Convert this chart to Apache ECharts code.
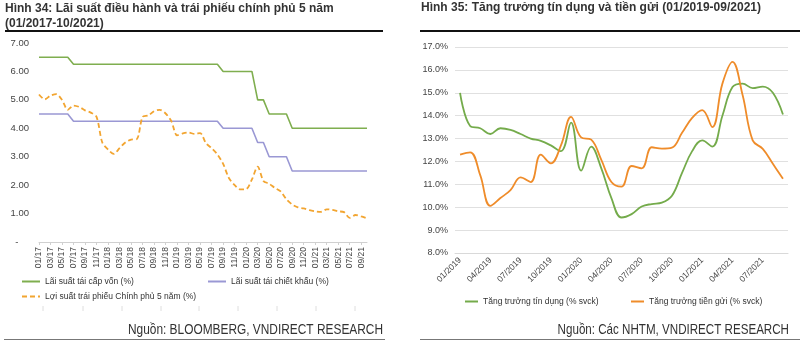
<!DOCTYPE html>
<html><head><meta charset="utf-8">
<script src="https://cdn.jsdelivr.net/npm/echarts@6/dist/echarts.min.js"></script>
<style>html,body{margin:0;padding:0;background:#fff}#c{width:800px;height:341px}</style>
</head><body><div id="c"></div>
<script>
const cats1 = ['01/17','02/17','03/17','04/17','05/17','06/17','07/17','08/17','09/17','10/17','11/17','12/17',
 '01/18','02/18','03/18','04/18','05/18','06/18','07/18','08/18','09/18','10/18','11/18','12/18',
 '01/19','02/19','03/19','04/19','05/19','06/19','07/19','08/19','09/19','10/19','11/19','12/19',
 '01/20','02/20','03/20','04/20','05/20','06/20','07/20','08/20','09/20','10/20','11/20','12/20',
 '01/21','02/21','03/21','04/21','05/21','06/21','07/21','08/21','09/21','10/21'];
const refinancing = [6.5,6.5,6.5,6.5,6.5,6.5,
 6.25,6.25,6.25,6.25,6.25,6.25,6.25,6.25,6.25,6.25,6.25,6.25,6.25,6.25,6.25,6.25,6.25,6.25,6.25,6.25,6.25,6.25,6.25,6.25,6.25,6.25,
 6.0,6.0,6.0,6.0,6.0,6.0,5.0,5.0,4.5,4.5,4.5,4.5,
 4.0,4.0,4.0,4.0,4.0,4.0,4.0,4.0,4.0,4.0,4.0,4.0,4.0,4.0];
const discount = [4.5,4.5,4.5,4.5,4.5,4.5,
 4.25,4.25,4.25,4.25,4.25,4.25,4.25,4.25,4.25,4.25,4.25,4.25,4.25,4.25,4.25,4.25,4.25,4.25,4.25,4.25,4.25,4.25,4.25,4.25,4.25,4.25,
 4.0,4.0,4.0,4.0,4.0,4.0,3.5,3.5,3.0,3.0,3.0,3.0,
 2.5,2.5,2.5,2.5,2.5,2.5,2.5,2.5,2.5,2.5,2.5,2.5,2.5,2.5];
const bond5y = [5.19,5.02,5.15,5.2,5.0,4.65,4.8,4.75,4.63,4.55,
 4.4,3.5,3.25,3.1,3.3,3.5,3.6,3.62,4.4,4.45,
 4.6,4.65,4.52,4.25,3.75,3.82,3.85,3.8,3.83,3.48,
 3.3,3.08,2.75,2.25,2.0,1.85,1.86,2.2,2.65,2.15,
 2.05,1.9,1.78,1.5,1.32,1.22,1.18,1.12,1.08,1.06,
 1.15,1.13,1.08,1.05,0.85,0.95,0.9,0.83];

const cats2 = ['01/2019','02/2019','03/2019','04/2019','05/2019','06/2019','07/2019','08/2019','09/2019','10/2019','11/2019','12/2019',
 '01/2020','02/2020','03/2020','04/2020','05/2020','06/2020','07/2020','08/2020','09/2020','10/2020','11/2020','12/2020',
 '01/2021','02/2021','03/2021','04/2021','05/2021','06/2021','07/2021','08/2021','09/2021'];
const creditGrowth = [15.0,13.55,13.45,13.2,13.45,13.38,13.2,13.0,12.9,12.7,
 12.45,13.7,11.6,12.65,11.7,10.4,9.55,9.7,10.03,10.14,
 10.2,10.5,11.5,12.45,12.92,12.65,14.0,15.25,15.4,15.2,
 15.27,15.0,14.05];
const depositGrowth = [12.3,12.4,11.4,10.06,10.4,10.75,11.3,11.1,12.3,11.92,
 12.7,13.95,13.05,12.95,12.07,11.1,10.9,11.8,11.7,12.62,
 12.56,12.6,13.25,13.9,14.24,13.5,15.4,16.35,14.9,12.92,
 12.55,11.9,11.24];

const FONT = 'Liberation Sans, Arial, sans-serif';
const GREEN1 = '#7fae4f', PURPLE1 = '#9a98d4', ORANGE1 = '#f2a531';
const GREEN2 = '#74ab4b', ORANGE2 = '#ef8c2a';

const chart = echarts.init(document.getElementById('c'), null, {renderer: 'canvas'});
const legText = {fontFamily: FONT, fontSize: 8.5, color: '#333'};
const legBase = {padding: 0, itemHeight: 8, textStyle: legText, itemStyle: {opacity: 0}};
const faintTicks = [43, 83, 122, 161, 199, 238, 277, 316, 355].map(x => (
  {type: 'line', shape: {x1: x, y1: 306, x2: x, y2: 311}, style: {stroke: '#dedede', lineWidth: 1}}));
chart.setOption({
  animation: false,
  textStyle: {fontFamily: FONT},
  grid: [
    {left: 39, right: 433, top: 43, bottom: 99},
    {left: 455, right: 12, top: 47, bottom: 88}
  ],
  xAxis: [
    {type: 'category', gridIndex: 0, data: cats1, boundaryGap: false,
     axisLine: {lineStyle: {color: '#d0d0d0'}},
     axisTick: {show: true, interval: 1, length: 3, lineStyle: {color: '#d0d0d0'}},
     axisLabel: {interval: 1, rotate: 90, fontSize: 8.5, color: '#444', margin: 5, fontFamily: FONT}},
    {type: 'category', gridIndex: 1, data: cats2, boundaryGap: true,
     axisLine: {lineStyle: {color: '#d9d9d9'}},
     axisTick: {show: false},
     axisLabel: {interval: 2, rotate: 45, fontSize: 8.5, color: '#444', margin: 6, fontFamily: FONT}}
  ],
  yAxis: [
    {type: 'value', gridIndex: 0, min: 0, max: 7, interval: 1,
     splitLine: {show: false}, axisLine: {show: false}, axisTick: {show: false},
     axisLabel: {fontSize: 9.5, color: '#444', margin: 10, fontFamily: FONT,
       formatter: v => v === 0 ? '-    ' : v.toFixed(2)}},
    {type: 'value', gridIndex: 1, min: 8, max: 17, interval: 1,
     splitLine: {lineStyle: {color: '#e0e0e0'}}, axisLine: {show: false}, axisTick: {show: false},
     axisLabel: {fontSize: 9, color: '#444', margin: 7, fontFamily: FONT,
       formatter: v => v.toFixed(1) + '%'}}
  ],
  legend: [
    Object.assign({left: 21, top: 277, itemWidth: 18, data: ['Lãi suất tái cấp vốn (%)']}, legBase),
    Object.assign({left: 207, top: 277, itemWidth: 18, data: ['Lãi suất tái chiết khấu (%)']}, legBase),
    Object.assign({left: 21, top: 292, itemWidth: 18, data: ['Lợi suất trái phiếu Chính phủ 5 năm (%)']}, legBase),
    Object.assign({left: 464, top: 297, itemWidth: 13, data: ['Tăng trưởng tín dụng (% svck)']}, legBase),
    Object.assign({left: 630, top: 297, itemWidth: 13, data: ['Tăng trưởng tiền gửi (% svck)']}, legBase)
  ],
  series: [
    {name: 'Lãi suất tái cấp vốn (%)', type: 'line', xAxisIndex: 0, yAxisIndex: 0, data: refinancing,
     symbol: 'none', lineStyle: {color: GREEN1, width: 1.6}, itemStyle: {color: GREEN1}},
    {name: 'Lãi suất tái chiết khấu (%)', type: 'line', xAxisIndex: 0, yAxisIndex: 0, data: discount,
     symbol: 'none', lineStyle: {color: PURPLE1, width: 1.6}, itemStyle: {color: PURPLE1}},
    {name: 'Lợi suất trái phiếu Chính phủ 5 năm (%)', type: 'line', xAxisIndex: 0, yAxisIndex: 0, data: bond5y,
     symbol: 'none', smooth: 0.3, lineStyle: {color: ORANGE1, width: 1.8, type: [5, 3]}, itemStyle: {color: ORANGE1}},
    {name: 'Tăng trưởng tín dụng (% svck)', type: 'line', xAxisIndex: 1, yAxisIndex: 1, data: creditGrowth,
     symbol: 'none', smooth: 0.4, lineStyle: {color: GREEN2, width: 1.8}, itemStyle: {color: GREEN2}},
    {name: 'Tăng trưởng tiền gửi (% svck)', type: 'line', xAxisIndex: 1, yAxisIndex: 1, data: depositGrowth,
     symbol: 'none', smooth: 0.4, lineStyle: {color: ORANGE2, width: 1.8}, itemStyle: {color: ORANGE2}}
  ],
  graphic: [
    {type: 'text', x: 5, y: 1, scaleX: 0.96, style: {text: 'Hình 34: Lãi suất điều hành và trái phiếu chính phủ 5 năm\n(01/2017-10/2021)',
      font: 'bold 12.5px ' + FONT, fill: '#333', lineHeight: 15}},
    {type: 'rect', shape: {x: 5, y: 30, width: 378, height: 2}, style: {fill: '#111'}},
    {type: 'text', x: 383, y: 322, scaleX: 0.82, style: {text: 'Nguồn: BLOOMBERG, VNDIRECT RESEARCH',
      font: '14.5px ' + FONT, fill: '#333', align: 'right'}},
    {type: 'rect', shape: {x: 4, y: 339, width: 381, height: 1}, style: {fill: '#777'}},
    {type: 'text', x: 421, y: 1, scaleX: 0.96, style: {text: 'Hình 35: Tăng trưởng tín dụng và tiền gửi (01/2019-09/2021)',
      font: 'bold 12.5px ' + FONT, fill: '#333'}},
    {type: 'rect', shape: {x: 420, y: 30, width: 380, height: 2}, style: {fill: '#111'}},
    {type: 'text', x: 789, y: 322, scaleX: 0.8, style: {text: 'Nguồn: Các NHTM, VNDIRECT RESEARCH',
      font: '14.5px ' + FONT, fill: '#333', align: 'right'}},
    {type: 'rect', shape: {x: 420, y: 339, width: 380, height: 1}, style: {fill: '#777'}}
  ].concat(faintTicks)
});
</script></body></html>
